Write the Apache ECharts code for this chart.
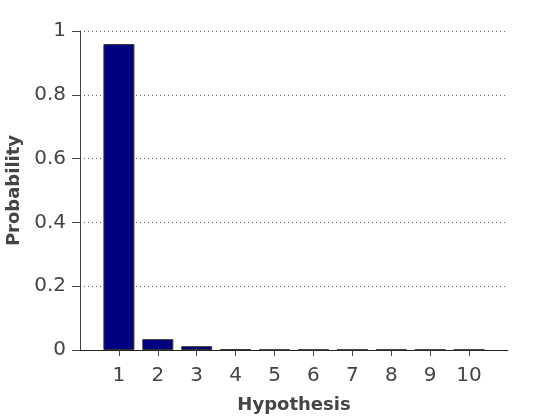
<!DOCTYPE html>
<html><head><meta charset="utf-8">
<script src="https://cdn.jsdelivr.net/npm/echarts@6/dist/echarts.min.js"></script>
<style>html,body{margin:0;padding:0;background:#fff}#c{width:560px;height:419px}</style>
</head><body><div id="c"></div>
<script>
const categories = ['1','2','3','4','5','6','7','8','9','10'];
const probabilities = [0.959, 0.034, 0.012, 0.002, 0.001, 0.001, 0.001, 0.001, 0.001, 0.001];
const yTicks = ['0','0.2','0.4','0.6','0.8','1'];

const axisData = [''].concat(categories, ['']);
const barData = [null].concat(probabilities, [null]);
const chart = echarts.init(document.getElementById('c'));
const font = 'DejaVu Sans';
chart.setOption({
  animation: false,
  grid: {left: 80, right: 52, top: 31, bottom: 69, containLabel: false, outerBoundsMode: 'none'},
  xAxis: {
    type: 'category', data: axisData, boundaryGap: false,
    name: 'Hypothesis', nameLocation: 'middle', nameGap: 46,
    nameTextStyle: {fontFamily: font, fontSize: 18, fontWeight: 'bold', color: '#444'},
    axisLine: {lineStyle: {color: '#222', width: 1}},
    axisTick: {show: true, inside: false, length: 6, interval: (i, v) => v !== '', lineStyle: {color: '#444'}},
    axisLabel: {fontFamily: font, fontSize: 20, color: '#444', margin: 16, interval: 0},
    splitLine: {show: false}
  },
  yAxis: {
    type: 'value', min: 0, max: 1, interval: 0.2,
    name: 'Probability', nameLocation: 'middle', nameGap: 52,
    nameTextStyle: {fontFamily: font, fontSize: 18, fontWeight: 'bold', color: '#444'},
    axisLine: {show: true, lineStyle: {color: '#444', width: 1}},
    axisTick: {show: true, inside: false, length: 8, lineStyle: {color: '#444'}},
    axisLabel: {fontFamily: font, fontSize: 20, color: '#444', margin: 14,
      formatter: v => yTicks[Math.round(v / 0.2)]},
    splitLine: {show: true, lineStyle: {color: '#666', type: [1, 3], width: 1}}
  },
  series: [{
    type: 'bar', data: barData, barWidth: 31,
    itemStyle: {color: '#000080', borderColor: '#333', borderWidth: 1}
  }]
});
</script></body></html>
